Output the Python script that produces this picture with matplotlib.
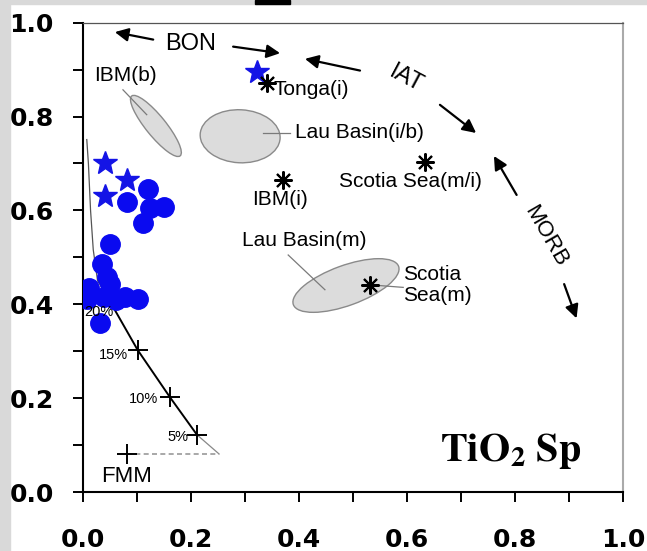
import matplotlib
matplotlib.use("Agg")
import matplotlib.pyplot as plt
from matplotlib.patches import Ellipse, Rectangle
from matplotlib.transforms import ScaledTranslation
import numpy as np

plt.rcParams['mathtext.fontset'] = 'stix'
plt.rcParams['font.family'] = ['Liberation Sans', 'DejaVu Sans']

# ---------------- data ----------------
circle_x = [0.081, 0.121, 0.150, 0.112, 0.124,
            0.050, 0.036, 0.044, 0.050, 0.012, 0.007, 0.038, 0.078, 0.102, 0.031, 0.062]
circle_y = [0.617, 0.645, 0.608, 0.573, 0.605,
            0.529, 0.486, 0.459, 0.443, 0.434, 0.411, 0.416, 0.415, 0.411, 0.361, 0.409]

star_x = [0.322, 0.041, 0.081, 0.041]
star_y = [0.895, 0.702, 0.664, 0.631]

ref_names = ["Tonga(i)", "IBM(i)", "Scotia Sea(m/i)", "Scotia Sea(m)"]
ref_x = [0.340, 0.371, 0.633, 0.531]
ref_y = [0.871, 0.665, 0.703, 0.441]

# melting curve (FMM)
melt_upper_x = [0.007, 0.010, 0.014, 0.019, 0.027, 0.044]
melt_upper_y = [0.751, 0.700, 0.600, 0.516, 0.450, 0.418]
melt_pct = ["20%", "15%", "10%", "5%"]
melt_x = [0.044, 0.101, 0.161, 0.211]
melt_y = [0.418, 0.303, 0.202, 0.122]
melt_end_x = 0.252
melt_end_y = 0.081
fmm_x = 0.082
fmm_y = 0.081

# field ellipses: centre (data), width/height (inches), angle (deg)
ell_names = ["IBM(b)", "Lau Basin(i/b)", "Lau Basin(m)"]
ell_cx = [0.135, 0.291, 0.487]
ell_cy = [0.780, 0.758, 0.440]
ell_w = [0.77, 0.80, 1.12]
ell_h = [0.20, 0.53, 0.40]
ell_ang = [-51, -3, 20]

# trend arrows (tail -> head)
arrow_tail = [(0.130, 0.964), (0.278, 0.949), (0.513, 0.898), (0.661, 0.825), (0.803, 0.633), (0.891, 0.443)]
arrow_head = [(0.059, 0.980), (0.365, 0.935), (0.411, 0.923), (0.728, 0.765), (0.761, 0.716), (0.914, 0.370)]

xticks = [0.0, 0.2, 0.4, 0.6, 0.8, 1.0]
yticks = [0.0, 0.2, 0.4, 0.6, 0.8, 1.0]
xtick_labels = ["0.0", "0.2", "0.4", "0.6", "0.8", "1.0"]
ytick_labels = ["0.0", "0.2", "0.4", "0.6", "0.8", "1.0"]

# ---------------- figure ----------------
fig = plt.figure(figsize=(6.47, 5.51), dpi=100)
fig.patch.set_facecolor('white')
# scanned-frame strips
fig.add_artist(Rectangle((0, 0), 10/647, 1, transform=fig.transFigure, color='#d9d9d9', zorder=0))
fig.add_artist(Rectangle((0, 1 - 4/551), 1, 4/551, transform=fig.transFigure, color='#d9d9d9', zorder=0))
fig.add_artist(Rectangle((255/647, 1 - 4/551), 35/647, 4/551, transform=fig.transFigure, color='black', zorder=1))

ax = fig.add_axes([83/647, 1 - 492/551, 540/647, 469.3/551])
ax.set_xlim(0, 1)
ax.set_ylim(0, 1)

# ellipses
for cx, cy, w, h, a in zip(ell_cx, ell_cy, ell_w, ell_h, ell_ang):
    tr = fig.dpi_scale_trans + ScaledTranslation(cx, cy, ax.transData)
    ax.add_patch(Ellipse((0, 0), w, h, angle=a, transform=tr,
                         facecolor='#dcdcdc', edgecolor='#8a8a8a', lw=1.0, zorder=2))

# leader lines
lead = '#7a7a7a'
ax.plot([0.074, 0.118], [0.857, 0.804], color=lead, lw=0.9, zorder=3)
ax.plot([0.334, 0.383], [0.766, 0.766], color=lead, lw=0.9, zorder=3)
ax.plot([0.380, 0.448], [0.505, 0.431], color=lead, lw=0.9, zorder=3)
ax.plot([0.537, 0.593], [0.441, 0.436], color=lead, lw=0.9, zorder=3)

# melting curve
ax.plot(melt_upper_x, melt_upper_y, color='#555555', lw=0.9, zorder=3)
ax.plot(melt_x, melt_y, color='black', lw=1.4, zorder=3)
ax.plot([melt_x[-1], melt_end_x], [melt_y[-1], melt_end_y], color='#888888', lw=0.9, zorder=3)
ax.plot([fmm_x, melt_end_x], [fmm_y, melt_end_y], color='#999999', lw=1.2, ls=(0, (3, 2)), zorder=3)
ax.plot(melt_x, melt_y, ls='none', marker='+', ms=14, mew=1.4, color='black', zorder=4)
ax.plot([fmm_x], [fmm_y], ls='none', marker='+', ms=14, mew=1.4, color='black', zorder=4)

# blue samples
ax.plot(circle_x, circle_y, ls='none', marker='o', ms=14, color='#0a0af0', mec='#0a0af0', zorder=5)
ax.plot(star_x, star_y, ls='none', marker='*', ms=18, color='#1414e6', mec='#1414e6', zorder=5)

# reference asterisks
ax.plot(ref_x, ref_y, ls='none', marker=(8, 2, 0), ms=13, mew=1.5, color='black', zorder=6)

# arrows
for (tx, ty), (hx, hy) in zip(arrow_tail, arrow_head):
    ax.annotate('', xy=(hx, hy), xytext=(tx, ty),
                arrowprops=dict(arrowstyle='-|>', color='black', lw=1.6, mutation_scale=20,
                                shrinkA=0, shrinkB=0), zorder=6)

# text labels
fs = 15
ax.text(0.199, 0.955, "BON", fontsize=17, ha='center', va='center')
ax.text(0.598, 0.881, "IAT", fontsize=17, ha='center', va='center', rotation=-28)
ax.text(0.857, 0.546, "MORB", fontsize=16, ha='center', va='center', rotation=-60)
ax.text(0.078, 0.887, ell_names[0], fontsize=fs, ha='center', va='center')
ax.text(0.352, 0.857, ref_names[0], fontsize=fs, ha='left', va='center')
ax.text(0.393, 0.765, ell_names[1], fontsize=fs, ha='left', va='center')
ax.text(0.365, 0.623, ref_names[1], fontsize=fs, ha='center', va='center')
ax.text(0.607, 0.661, ref_names[2], fontsize=fs, ha='center', va='center')
ax.text(0.409, 0.535, ell_names[2], fontsize=fs, ha='center', va='center')
ax.text(0.593, 0.441, "Scotia\nSea(m)", fontsize=fs, ha='left', va='center', linespacing=1.1)

pct_pos = [(0.030, 0.384), (0.056, 0.292), (0.112, 0.198), (0.175, 0.118)]
for lab, (px, py) in zip(melt_pct, pct_pos):
    ax.text(px, py, lab, fontsize=10.5, ha='center', va='center', zorder=7)
ax.text(0.081, 0.033, "FMM", fontsize=16, ha='center', va='center')
ax.text(0.661, 0.065, r'$\mathbf{TiO_2\ Sp}$', fontsize=29, ha='left', va='baseline')

# axes styling
ax.set_xticks(xticks)
ax.set_xticklabels(xtick_labels)
ax.set_yticks(yticks)
ax.set_yticklabels(ytick_labels)
ax.set_xticks(np.arange(0.1, 1.0, 0.2), minor=True)
ax.set_yticks(np.arange(0.1, 1.0, 0.2), minor=True)
ax.tick_params(which='both', direction='out', length=7, width=1.4, color='black')
ax.tick_params(axis='x', which='major', pad=19)
ax.tick_params(axis='y', which='major', pad=14)
for lab in ax.get_xticklabels() + ax.get_yticklabels():
    lab.set_fontfamily('DejaVu Sans')
    lab.set_fontweight('bold')
    lab.set_fontsize(18)

ax.spines['left'].set_linewidth(1.5)
ax.spines['bottom'].set_linewidth(1.5)
ax.spines['top'].set_linewidth(0.9)
ax.spines['top'].set_color('#555555')
ax.spines['right'].set_linewidth(1.5)
ax.spines['right'].set_color('#aaaaaa')

fig.savefig('out.png', dpi=100)
